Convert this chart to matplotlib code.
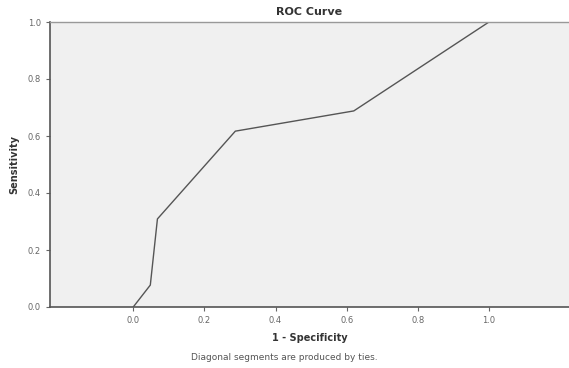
import matplotlib
matplotlib.use("Agg")
import matplotlib.pyplot as plt

fpr = [0.0, 0.048, 0.068, 0.287, 0.62, 1.0]
tpr = [0.0, 0.077, 0.309, 0.617, 0.688, 1.0]
ticks = [0.0, 0.2, 0.4, 0.6, 0.8, 1.0]
tick_labels = ["0.0", "0.2", "0.4", "0.6", "0.8", "1.0"]

fig = plt.figure(figsize=(5.69, 3.68), dpi=100)
ax = fig.add_axes([50 / 569, 1 - 307 / 368, 519 / 569, 285 / 368])
ax.set_facecolor("#f0f0f0")

ax.plot(fpr, tpr, color="#555555", lw=1.0)

ax.set_xlim(-0.234, 1.225)
ax.set_ylim(0, 1)
ax.set_xticks(ticks)
ax.set_xticklabels(tick_labels)
ax.set_yticks(ticks)
ax.set_yticklabels(tick_labels)
ax.tick_params(labelsize=6, colors="#666666", length=3, width=0.8)

for s in ["left", "bottom"]:
    ax.spines[s].set_color("#555555")
    ax.spines[s].set_linewidth(1.2)
ax.spines["top"].set_color("#999999")
ax.spines["top"].set_linewidth(1.0)
ax.spines["right"].set_visible(False)

ax.set_title("ROC Curve", fontsize=8, fontweight="bold", color="#333333", pad=5)
ax.set_xlabel("1 - Specificity", fontsize=7, fontweight="bold", color="#333333", labelpad=6)
ax.set_ylabel("Sensitivity", fontsize=7, fontweight="bold", color="#333333", labelpad=6)

fig.text(284 / 569, 1 - 357 / 368, "Diagonal segments are produced by ties.",
         fontsize=6.5, color="#555555", ha="center", va="center")

fig.savefig("out.png", dpi=100)
